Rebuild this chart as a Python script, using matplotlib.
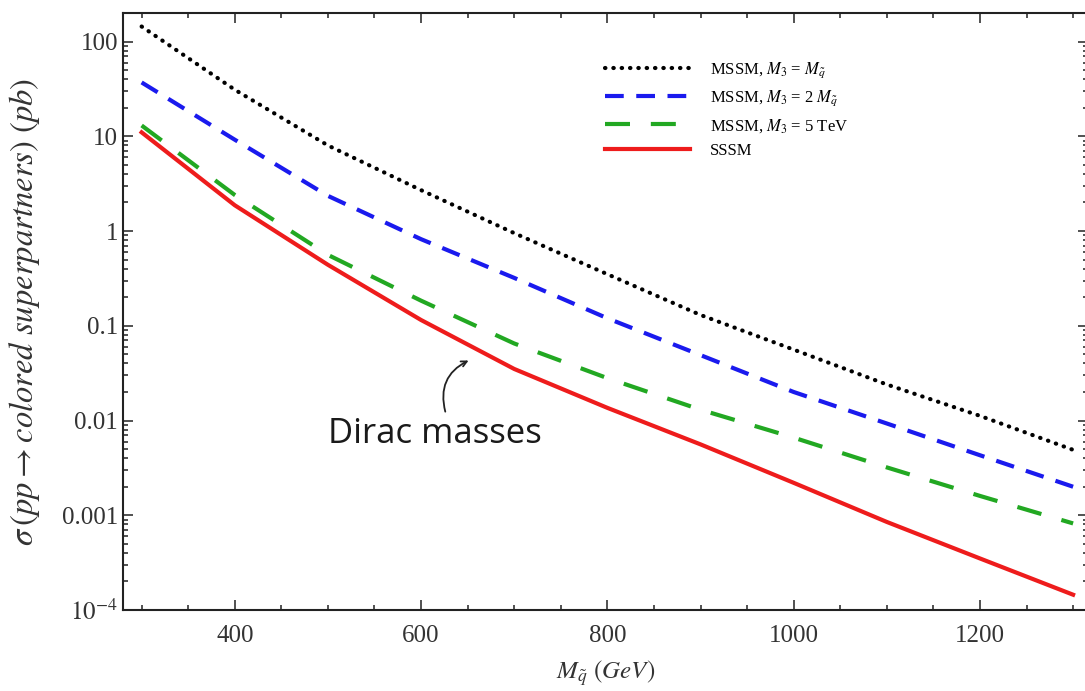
import matplotlib
matplotlib.use("Agg")
import matplotlib.pyplot as plt
from matplotlib.ticker import FixedLocator, FixedFormatter, MultipleLocator, LogLocator, NullFormatter

plt.rcParams['font.family'] = ['Liberation Serif', 'DejaVu Serif']
plt.rcParams['mathtext.fontset'] = 'stix'

# squark mass (GeV)
mass = [300, 400, 500, 600, 700, 800, 900, 1000, 1100, 1200, 1300]

mssm_equal = [144, 31, 8.0, 2.7, 0.95, 0.35, 0.13, 0.056, 0.024, 0.0112, 0.0049]
mssm_double = [37, 9.2, 2.35, 0.82, 0.32, 0.12, 0.049, 0.02, 0.0093, 0.0043, 0.002]
mssm_5tev = [13, 2.4, 0.56, 0.184, 0.065, 0.028, 0.013, 0.0066, 0.0032, 0.0016, 0.00082]
sssm = [11, 1.87, 0.44, 0.115, 0.035, 0.0136, 0.0056, 0.0022, 0.00085, 0.00035, 0.000145]

y_ticks = [1e2, 1e1, 1, 0.1, 0.01, 0.001, 1e-4]
y_labels = ['100', '10', '1', '0.1', '0.01', '0.001', r'$10^{-4}$']

fig = plt.figure(figsize=(10.85, 6.91), dpi=100)
ax = fig.add_axes([123 / 1085, 1 - 610 / 691, 965 / 1085, 597 / 691])

ax.plot(mass, mssm_equal, color='black', lw=3, linestyle=(0, (0.1, 1.9)),
        dash_capstyle='round', label=r'MSSM, $M_3$ = $M_{\tilde{q}}$')
ax.plot(mass, mssm_double, color='#1a1aee', lw=3, dashes=(4.5, 3),
        label=r'MSSM, $M_3$ = 2 $M_{\tilde{q}}$')
ax.plot(mass, mssm_5tev, color='#22a822', lw=3, dashes=(6, 5),
        label=r'MSSM, $M_3$ = 5 TeV')
ax.plot(mass, sssm, color='#ee1c1c', lw=3, label='SSSM')

ax.set_yscale('log')
ax.set_xlim(280, 1316)
ax.set_ylim(1e-4, 200)

ax.xaxis.set_major_locator(MultipleLocator(200))
ax.xaxis.set_minor_locator(MultipleLocator(50))
ax.yaxis.set_major_locator(FixedLocator(y_ticks))
ax.yaxis.set_major_formatter(FixedFormatter(y_labels))
ax.yaxis.set_minor_locator(LogLocator(base=10, subs=range(2, 10), numticks=20))
ax.yaxis.set_minor_formatter(NullFormatter())

ax.tick_params(which='both', direction='in', top=True, right=True,
               labelsize=18, colors='#333333', width=1.2)
ax.tick_params(which='major', length=7)
ax.tick_params(which='minor', length=3.5)
ax.tick_params(axis='x', which='major', pad=11)
for s in ax.spines.values():
    s.set_linewidth(1.5)
    s.set_color('#222222')

ax.set_xlabel(r'$M_{\tilde{q}}$ $(GeV)$', fontsize=18, color='#333333', labelpad=8)
ax.set_ylabel(r'$\sigma\,(pp \rightarrow colored\ superpartners)\ (pb)$',
              fontsize=23.5, color='#333333', labelpad=14)

ax.legend(loc='upper left', bbox_to_anchor=(0.484, 0.945), frameon=False,
          fontsize=12, handlelength=5.1, handletextpad=1.2, labelspacing=0.5)

ax.text(500, 0.0072, 'Dirac masses', fontsize=25, family='Open Sans',
        va='center', ha='left', color='#1a1a1a')
ax.annotate('', xy=(651, 0.043), xytext=(626, 0.0124),
            arrowprops=dict(arrowstyle='->', color='#222222', lw=1.3,
                            connectionstyle='arc3,rad=-0.4',
                            shrinkA=0, shrinkB=0))

fig.savefig('out.png', dpi=100)
